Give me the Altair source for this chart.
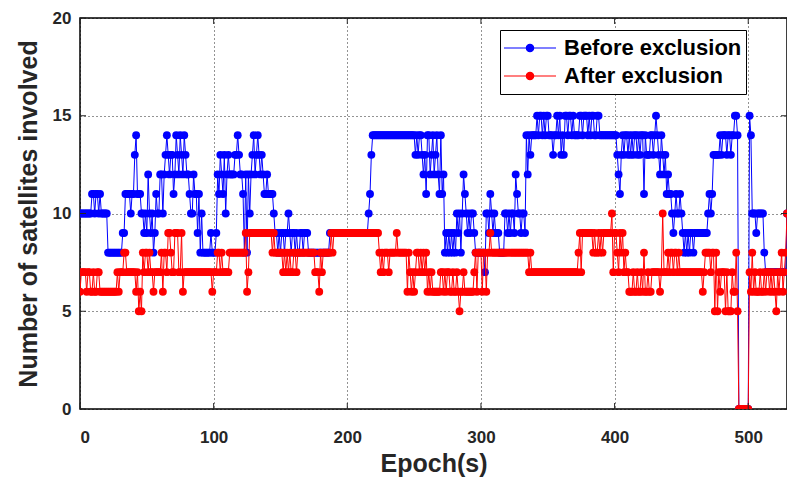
import altair as alt
import pandas as pd

# ---- data (epochs 0..529) ----
before_exclusion = [
    10,10,10,10,10,10,10,10,10,11,
    11,10,11,11,10,11,10,10,10,10,
    10,8,8,8,8,8,8,8,8,8,
    8,8,9,9,11,11,11,11,10,11,
    11,13,14,11,11,11,10,10,9,10,
    9,12,10,9,10,8,9,11,10,10,
    12,12,10,12,13,14,13,12,13,13,
    11,12,14,13,12,14,13,12,14,13,
    12,12,11,10,10,12,11,11,9,11,
    8,10,8,8,8,8,8,8,9,8,
    8,8,9,12,11,13,12,11,13,10,
    12,13,12,12,12,12,13,13,14,13,
    12,12,11,8,12,8,12,10,12,13,
    14,12,13,14,13,12,13,12,11,11,
    12,11,11,11,11,10,9,9,8,9,
    8,9,9,8,9,9,10,9,8,9,
    9,8,9,8,8,9,9,8,9,9,
    9,8,8,8,8,8,8,8,8,8,
    8,8,8,8,8,8,8,9,9,9,
    9,9,9,9,9,9,9,9,9,9,
    9,9,9,9,9,9,9,9,9,9,
    9,9,9,9,9,9,10,11,13,14,
    14,14,14,14,14,14,14,14,14,14,
    14,14,14,14,14,14,14,14,14,14,
    14,14,14,14,14,14,14,14,14,14,
    14,13,14,13,14,14,13,12,13,11,
    14,14,12,13,14,12,13,14,12,11,
    14,11,12,8,9,8,9,8,9,8,
    9,8,10,9,10,8,10,12,11,10,
    9,10,9,10,10,9,8,8,8,8,
    8,8,8,7,10,10,9,11,10,9,
    10,9,9,9,8,8,8,8,10,10,
    9,10,9,10,10,9,12,11,10,10,
    9,10,10,9,14,12,14,13,14,14,
    14,14,15,14,15,15,14,15,14,15,
    15,14,14,14,13,14,14,15,14,15,
    13,14,13,15,15,14,15,15,14,15,
    14,14,14,14,15,15,14,15,15,15,
    14,15,14,15,15,14,14,15,15,14,
    14,14,14,14,14,14,14,14,14,14,
    14,14,13,12,11,13,14,13,14,14,
    13,14,13,14,13,14,14,13,14,13,
    14,14,11,14,13,13,13,14,14,13,
    14,15,14,13,12,14,13,12,13,11,
    12,11,11,10,9,10,11,10,10,11,
    10,9,8,9,8,9,8,9,9,8,
    9,9,9,9,9,9,9,9,9,9,
    10,11,10,11,13,13,13,13,13,14,
    13,14,14,14,13,14,14,13,14,14,
    15,15,14,0,0,0,0,0,0,0,
    0,15,14,10,10,10,9,10,10,10,
    10,10,8,7,7,7,7,7,7,7,
    7,7,7,7,7,7,7,7,7,10,
]

after_exclusion = [
    6,7,7,7,7,6,7,7,6,6,
    7,6,6,7,7,6,6,6,6,6,
    6,6,6,6,6,6,6,6,7,6,
    7,7,7,8,8,7,7,7,7,7,
    7,7,6,7,5,6,5,8,7,8,
    8,7,8,7,7,6,7,7,7,7,
    7,8,6,8,8,7,9,9,8,7,
    7,9,9,9,7,7,9,6,7,7,
    7,7,7,7,7,7,7,7,7,7,
    7,7,7,7,7,7,7,7,7,6,
    7,7,7,8,8,7,8,7,7,7,
    7,7,8,8,8,8,8,8,8,8,
    8,8,8,8,9,6,7,9,9,9,
    9,9,9,9,9,9,9,9,9,9,
    9,9,9,9,8,9,8,8,8,8,
    8,8,7,8,7,8,7,8,7,7,
    8,8,7,8,8,8,8,8,8,8,
    8,8,8,8,8,8,7,7,7,6,
    8,7,8,8,8,8,8,8,9,8,
    9,9,9,9,9,9,9,9,9,9,
    9,9,9,9,9,9,9,9,9,9,
    9,9,9,9,9,9,9,9,9,9,
    9,9,9,9,8,7,8,7,8,8,
    8,7,8,8,8,8,8,9,8,8,
    8,8,8,8,8,6,8,7,6,7,
    6,7,8,8,7,8,7,8,7,8,
    6,7,6,7,6,6,6,6,6,6,
    7,7,6,7,6,7,7,6,6,7,
    6,6,7,6,5,6,6,7,6,6,
    6,6,6,6,6,7,8,6,8,8,
    8,6,8,8,6,8,8,9,8,8,
    8,8,8,8,8,8,8,8,8,8,
    8,8,8,8,8,8,8,8,8,8,
    8,8,8,8,8,8,7,8,7,7,
    7,7,7,7,7,7,7,7,7,7,
    7,7,7,7,7,7,7,7,7,7,
    7,7,7,7,7,7,7,7,7,7,
    7,7,7,8,9,7,9,9,9,9,
    9,9,9,9,8,9,8,8,9,8,
    9,8,9,9,9,9,9,9,10,7,
    9,9,8,7,9,8,9,7,8,7,
    7,6,6,6,7,6,6,7,6,6,
    7,6,8,6,6,7,6,6,7,7,
    7,7,7,7,6,7,10,7,7,7,
    8,7,8,8,7,8,8,7,8,7,
    7,7,7,7,7,7,7,7,7,7,
    7,7,7,7,7,7,6,7,8,8,
    8,8,7,8,8,5,8,5,7,6,
    7,7,7,5,7,5,5,5,7,6,
    6,8,5,0,0,0,0,0,0,0,
    0,7,6,8,6,7,6,6,6,7,
    6,6,7,6,7,7,6,7,6,7,
    6,5,7,6,7,8,6,7,8,10,
]

epochs = list(range(len(before_exclusion)))
series_names = ["Before exclusion", "After exclusion"]
series_colors = ["#0000FF", "#FF0000"]
x_ticks = [0, 100, 200, 300, 400, 500]
y_ticks = [0, 5, 10, 15, 20]
x_max = 529

W, H = 707, 391
FONT = "Liberation Sans"
TXT = "#262626"

df = pd.DataFrame({
    "epoch": epochs * 2,
    "value": before_exclusion + after_exclusion,
    "series": [series_names[0]] * len(epochs) + [series_names[1]] * len(epochs),
})

xs = alt.Scale(domain=[0, x_max], nice=False, zero=False)
ys = alt.Scale(domain=[0, 20], nice=False)
cscale = alt.Scale(domain=series_names, range=series_colors)

legend_path = ("M-1,-0.022L1,-0.022L1,0.022L-1,0.022Z"
               "M-0.165,0A0.165,0.165,0,1,1,0.165,0A0.165,0.165,0,1,1,-0.165,0Z")

legend = alt.Legend(
    title=None, orient="none", legendX=420, legendY=12,
    symbolType=legend_path, symbolSize=2704, symbolStrokeWidth=0,
    symbolOpacity=1, clipHeight=28, labelOffset=8, padding=4, rowPadding=0,
    labelFont=FONT, labelFontWeight="bold", labelFontSize=22, labelColor="#000",
    labelLimit=400,
    fillColor="white", strokeColor="#000", cornerRadius=0,
)

x_axis = alt.Axis(values=x_ticks, title="Epoch(s)", grid=True, ticks=False,
                  domain=False, labelPadding=20, titlePadding=6, format="d")
y_axis = alt.Axis(values=y_ticks, title="Number of satellites involved",
                  grid=True, ticks=False, domain=False, labelPadding=9,
                  titlePadding=11, format="d")

base = alt.Chart(df)
X = alt.X("epoch:Q", scale=xs, axis=x_axis)
Y = alt.Y("value:Q", scale=ys, axis=y_axis)

layers = []
for name, col in zip(series_names, series_colors):
    sub = base.transform_filter(alt.datum.series == name)
    layers.append(sub.mark_line(strokeWidth=1, color=col, clip=True).encode(x=X, y=Y))
    layers.append(sub.mark_point(filled=True, shape="circle", size=62, opacity=1,
                                 strokeWidth=0, clip=True).encode(
        x=X, y=Y, color=alt.Color("series:N", scale=cscale, legend=legend)))

xt = pd.DataFrame({"t": x_ticks})
yt = pd.DataFrame({"t": y_ticks})
tick_col = "#262626"
tx = alt.Chart(xt).encode(x=alt.X("t:Q", scale=xs, axis=x_axis))
ty = alt.Chart(yt).encode(y=alt.Y("t:Q", scale=ys, axis=y_axis))
ticks = [
    tx.mark_rule(color=tick_col, strokeWidth=1).encode(y=alt.value(H), y2=alt.value(H - 6)),
    tx.mark_rule(color=tick_col, strokeWidth=1).encode(y=alt.value(0), y2=alt.value(6)),
    ty.mark_rule(color=tick_col, strokeWidth=1).encode(x=alt.value(0), x2=alt.value(6)),
    ty.mark_rule(color=tick_col, strokeWidth=1).encode(x=alt.value(W), x2=alt.value(W - 6)),
]

chart = alt.layer(*layers, *ticks).properties(
    width=W, height=H,
    autosize=alt.AutoSizeParams(type="none"),
    padding={"left": 80, "top": 18, "right": 0, "bottom": 70},
    background="white",
).configure_view(
    stroke="#000", strokeWidth=1.5,
).configure_axis(
    labelFont=FONT, labelFontWeight="bold", labelFontSize=17, labelColor=TXT,
    titleFont=FONT, titleFontWeight="bold", titleFontSize=25, titleColor=TXT,
    gridColor="#000", gridDash=[1, 3], gridWidth=1, gridOpacity=0.85,
)

chart.save("out.html", embed_options={"renderer": "svg", "actions": False})
